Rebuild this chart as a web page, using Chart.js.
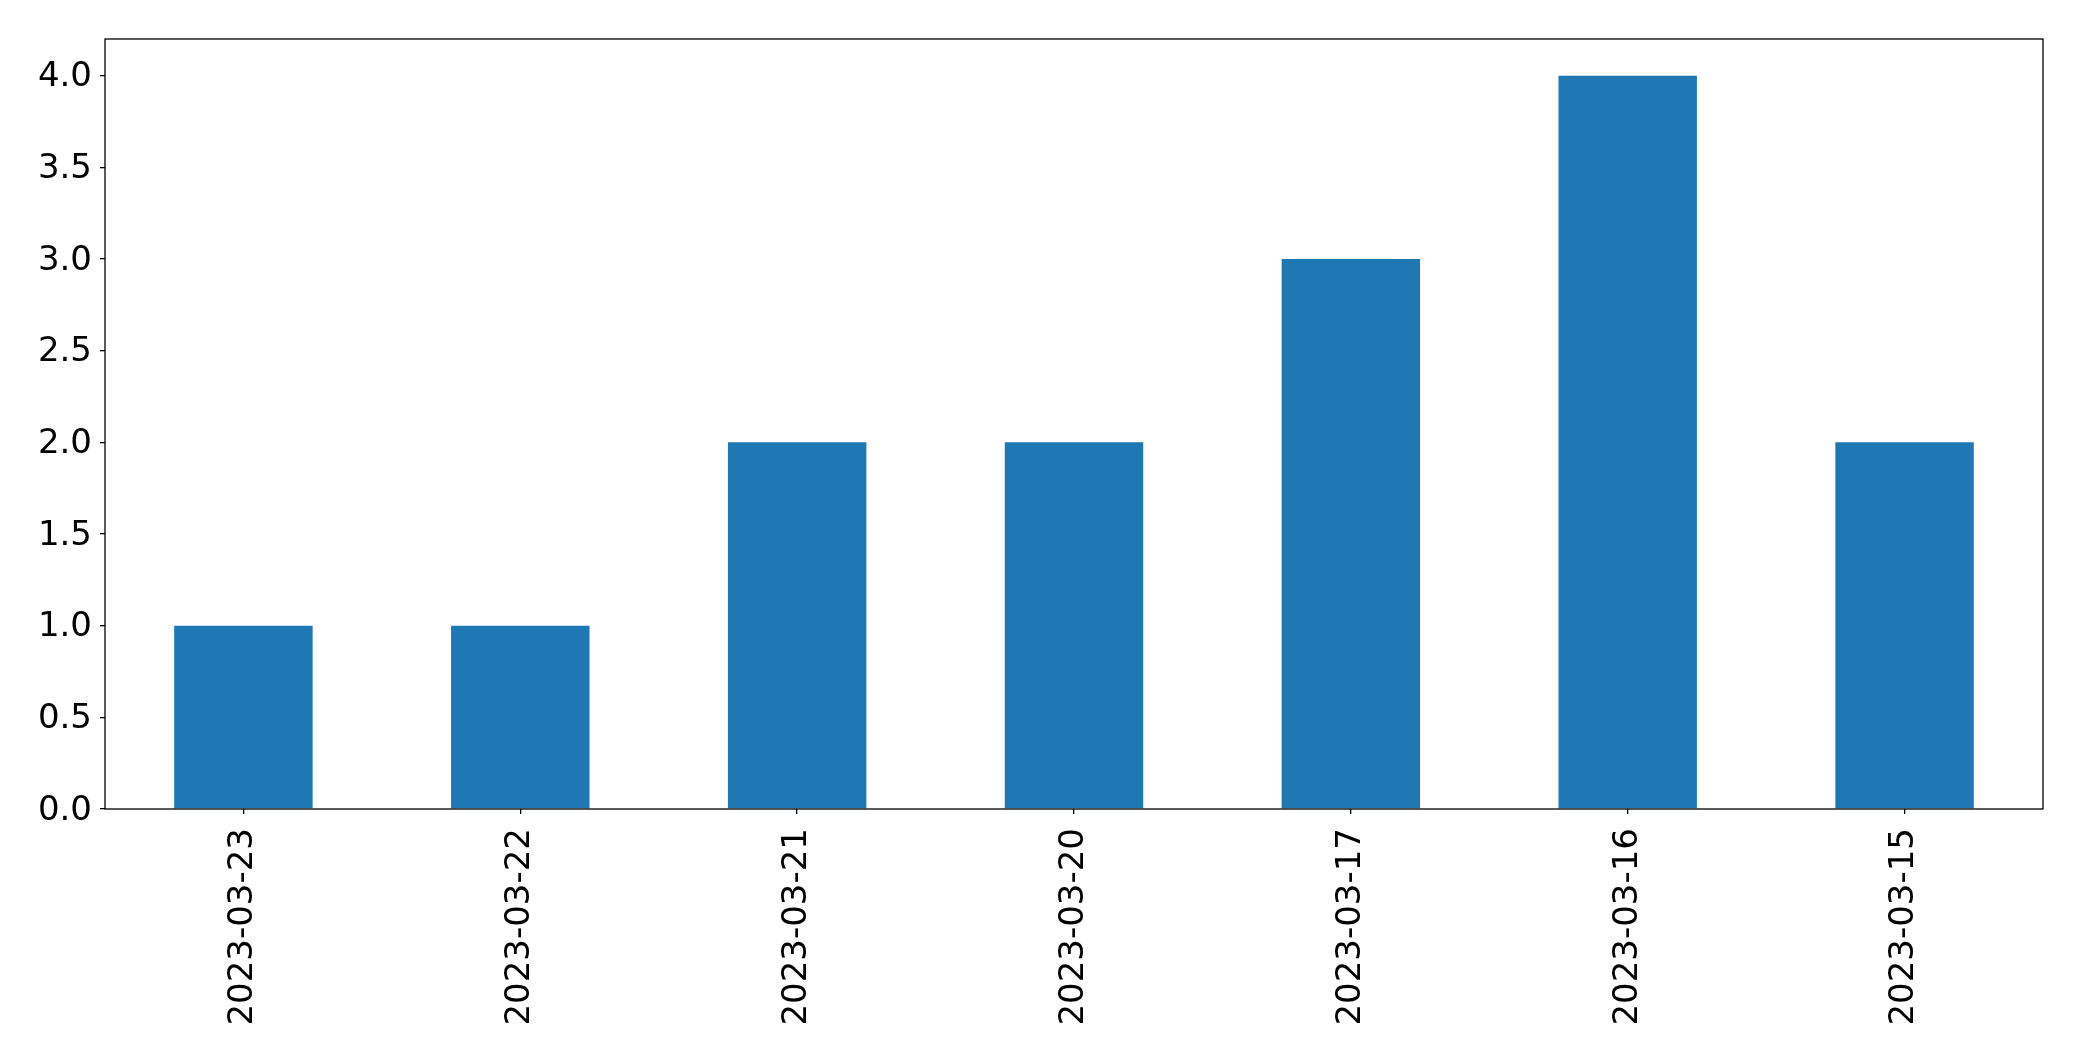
<!DOCTYPE html>
<html>
<head>
<meta charset="utf-8">
<script src="https://cdn.jsdelivr.net/npm/chart.js@4/dist/chart.umd.min.js"></script>
<style>
  html, body { margin: 0; padding: 0; background: #fff; }
  #wrap { width: 2082px; height: 1061px; }
</style>
</head>
<body>
<div id="wrap"><canvas id="chart" width="2082" height="1061"></canvas></div>
<script>
const dates = ["2023-03-23", "2023-03-22", "2023-03-21", "2023-03-20", "2023-03-17", "2023-03-16", "2023-03-15"];
const counts = [1, 1, 2, 2, 3, 4, 2];
const yTicks = [0, 0.5, 1, 1.5, 2, 2.5, 3, 3.5, 4];

const FONT = { family: "'DejaVu Sans'", size: 34 };

// draws the black frame round the plot area, like matplotlib's spines
const frame = {
  id: "frame",
  afterDraw(chart) {
    const { ctx, chartArea: a } = chart;
    ctx.save();
    ctx.strokeStyle = "#000";
    ctx.lineWidth = 1.3;
    ctx.strokeRect(a.left, a.top, a.right - a.left, a.bottom - a.top);
    ctx.restore();
  },
};

new Chart(document.getElementById("chart"), {
  type: "bar",
  data: {
    labels: dates,
    datasets: [{ data: counts, backgroundColor: "#1f77b4", categoryPercentage: 1, barPercentage: 0.5 }],
  },
  options: {
    responsive: false,
    animation: false,
    layout: { padding: { top: 39, right: 39, left: 0, bottom: 0 } },
    plugins: { legend: { display: false }, tooltip: { enabled: false } },
    scales: {
      x: {
        offset: true,
        grid: { offset: false, drawOnChartArea: false, drawTicks: true, tickLength: 5, color: "#000", lineWidth: 1.3 },
        border: { display: false },
        ticks: { color: "#000", font: FONT, minRotation: 90, maxRotation: 90, padding: 14, autoSkip: false },
        afterFit: (scale) => { scale.height = 252; },
      },
      y: {
        min: 0,
        max: 4.2,
        grid: { drawOnChartArea: false, drawTicks: true, tickLength: 5, color: "#000", lineWidth: 1.3 },
        border: { display: false },
        afterBuildTicks: (scale) => { scale.ticks = yTicks.map((v) => ({ value: v })); },
        ticks: { color: "#000", font: FONT, padding: 8, labelOffset: 2, callback: (v) => Number(v).toFixed(1) },
        afterFit: (scale) => { scale.width = 105; },
      },
    },
  },
  plugins: [frame],
});
</script>
</body>
</html>
